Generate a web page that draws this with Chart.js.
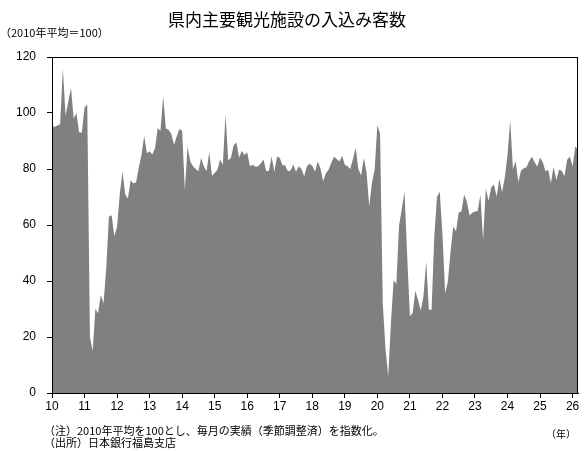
<!DOCTYPE html>
<html lang="ja">
<head>
<meta charset="utf-8">
<script src="https://cdn.jsdelivr.net/npm/chart.js@4.4.1/dist/chart.umd.min.js"></script>
<style>
  body { margin: 0; background: #fff; }
  #wrap { position: relative; width: 586px; height: 451px; font-family: "Noto Sans CJK JP", sans-serif; color: #000; }
  #chart { position: absolute; left: 0; top: 0; }
  .txt { position: absolute; white-space: nowrap; line-height: 1; }
  #title { left: 0; width: 574px; text-align: center; top: 10px; font-size: 17px; }
  #unit { left: 0px; top: 27px; font-size: 11px; }
  #note1 { left: 44px; top: 425px; font-size: 11px; }
  #note2 { left: 44px; top: 437px; font-size: 11px; }
  #nen { right: 10px; top: 429px; font-size: 10px; }
</style>
</head>
<body>
<div id="wrap">
  <canvas id="chart" width="586" height="451"></canvas>
  <div class="txt" id="title">県内主要観光施設の入込み客数</div>
  <div class="txt" id="unit">（2010年平均＝100）</div>
  <div class="txt" id="note1">（注）2010年平均を100とし、毎月の実績（季節調整済）を指数化。</div>
  <div class="txt" id="note2">（出所）日本銀行福島支店</div>
  <div class="txt" id="nen">（年）</div>
</div>
<script>
// monthly index, 2010 = 100 (seasonally adjusted)
const y2010 = [95.5, 95, 95.5, 96, 116, 99, 104, 109, 98, 100, 93, 93];
const y2011 = [102, 103, 20, 15, 30, 28.5, 35, 32, 44.5, 63, 63.5, 56];
const y2012 = [59.5, 71, 79, 71, 69.5, 76, 74.8, 75.3, 80.5, 85, 91.8, 85.6];
const y2013 = [86.3, 85.2, 87.5, 94.6, 93.6, 106, 94.5, 94, 92.5, 88.7, 91.6, 94.3];
const y2014 = [93.7, 72.6, 88, 82.7, 81, 80, 79.2, 83.9, 81, 79.2, 86, 77.6];
const y2015 = [78.6, 79.7, 83.4, 81.5, 99.5, 83, 84, 88.5, 89.5, 84, 86.5, 85];
const y2016 = [86, 81, 81.5, 80.8, 81, 82, 83.4, 79.2, 79.4, 84.5, 79, 84.5];
const y2017 = [84, 81.3, 81.3, 79.2, 79.5, 81.6, 79, 81, 80, 77.4, 81, 81.9];
const y2018 = [81.2, 79, 82.7, 80.3, 75.6, 78.5, 79.7, 82.1, 84.4, 83.6, 82.7, 84.7];
const y2019 = [81.5, 81, 80, 83.6, 87.5, 80, 77.7, 83.9, 79, 66.7, 75, 79.8];
const y2020 = [95.7, 92.5, 32, 15.8, 6, 25, 40.4, 38.8, 59.8, 65.5, 72, 49];
const y2021 = [27.5, 28.5, 36.5, 33.3, 29.5, 34.5, 47, 29.7, 29.7, 56, 70, 72];
const y2022 = [57, 35.5, 39.8, 50.5, 59.5, 57.7, 64.5, 64.8, 70.8, 68.4, 63.4, 64.4];
const y2023 = [64.8, 65, 70.7, 54.7, 73, 68.6, 73.5, 74.5, 70.2, 76.5, 71.8, 77];
const y2024 = [85, 97.4, 80, 82.8, 75.4, 79.5, 80.3, 80.6, 82.9, 84.4, 82.4, 80.9];
const y2025 = [84.1, 82.4, 79.2, 79.7, 75, 80.8, 76.1, 79.7, 79.4, 77.4, 83.3, 84.5];
const y2026 = [80.9, 88, 86.9];

const startYear = 10; // axis labels use two-digit years
const yearTicks = [10, 11, 12, 13, 14, 15, 16, 17, 18, 19, 20, 21, 22, 23, 24, 25, 26];
const valueTicks = [0, 20, 40, 60, 80, 100, 120];

const monthly = [].concat(y2010, y2011, y2012, y2013, y2014, y2015, y2016, y2017,
  y2018, y2019, y2020, y2021, y2022, y2023, y2024, y2025, y2026);
const points = monthly.map((v, i) => ({ x: startYear + i / 12, y: v }));

const tickFont = { family: "'Liberation Sans', sans-serif", size: 12 };

// plot frame drawn on top of the area fill
const frame = {
  id: "frame",
  afterDatasetsDraw(chart) {
    const { ctx, chartArea: a } = chart;
    ctx.save();
    ctx.strokeStyle = "#000";
    ctx.lineWidth = 1;
    ctx.strokeRect(a.left + 0.5, a.top + 0.5, a.right - a.left - 1, a.bottom - a.top);
    ctx.restore();
  },
};

new Chart(document.getElementById("chart"), {
  type: "line",
  data: {
    datasets: [{
      data: points,
      fill: "origin",
      backgroundColor: "#808080",
      borderColor: "#808080",
      borderWidth: 0,
      pointRadius: 0,
      tension: 0,
    }],
  },
  options: {
    responsive: false,
    animation: false,
    layout: { padding: { left: 0, right: 8, top: 57, bottom: 0 } },
    plugins: { legend: { display: false }, tooltip: { enabled: false } },
    scales: {
      x: {
        type: "linear",
        min: startYear,
        max: startYear + (monthly.length - 1) / 12,
        afterBuildTicks: (s) => { s.ticks = yearTicks.map((v) => ({ value: v })); },
        afterFit: (s) => { s.height = 58; },
        ticks: { autoSkip: false, maxRotation: 0, padding: 1, color: "#000", font: tickFont,
          callback: (v) => String(v) },
        grid: { drawOnChartArea: false, drawTicks: true, tickLength: 5, color: "#000" },
        border: { display: true, color: "#000", width: 1 },
      },
      y: {
        min: 0,
        max: 120,
        afterBuildTicks: (s) => { s.ticks = valueTicks.map((v) => ({ value: v })); },
        afterFit: (s) => { s.width = 52; },
        ticks: { padding: 11, color: "#000", font: tickFont },
        grid: { drawOnChartArea: false, drawTicks: true, tickLength: 5, color: "#000" },
        border: { display: true, color: "#000", width: 1 },
      },
    },
  },
  plugins: [frame],
});
</script>
</body>
</html>
